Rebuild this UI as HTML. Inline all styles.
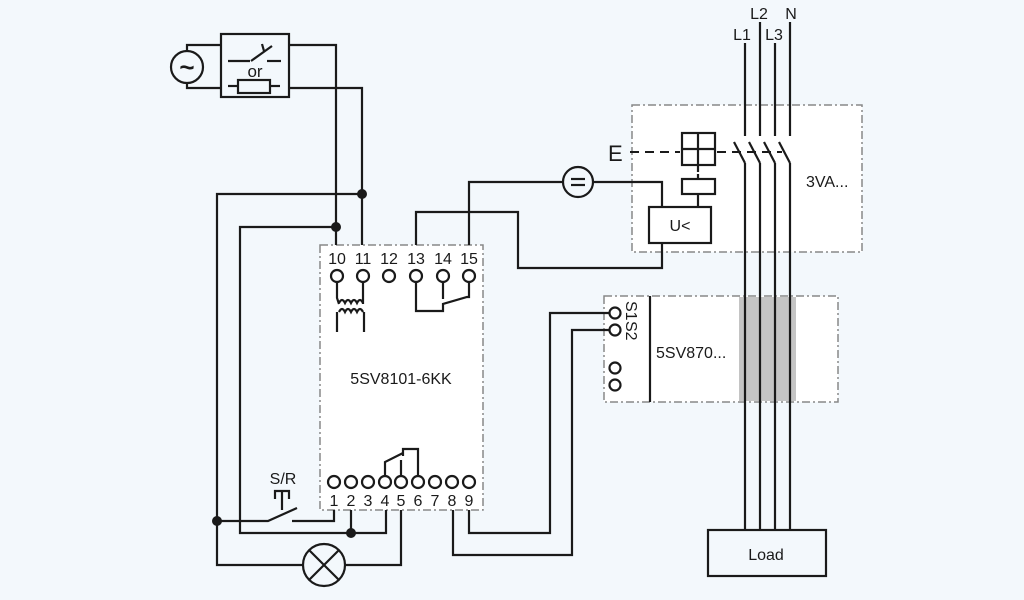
<!DOCTYPE html>
<html><head><style>
html,body{margin:0;padding:0;background:#f3f8fc;}
svg{display:block;font-family:"Liberation Sans",sans-serif;}
</style></head><body>
<svg width="1024" height="600" viewBox="0 0 1024 600" xmlns="http://www.w3.org/2000/svg">
<rect width="1024" height="600" fill="#f3f8fc"/>
<g fill="#fff" stroke="#888" stroke-width="1.5" stroke-dasharray="8,3,2,3">
<rect x="320" y="245" width="163" height="265"/>
<rect x="632" y="105" width="230" height="147"/>
<rect x="604" y="296" width="234" height="106"/>
</g>
<rect x="739" y="297" width="57" height="104" fill="#c4c4c4"/>
<g fill="none" stroke="#1a1a1a" stroke-width="2.2">
<circle cx="187" cy="67" r="16"/>
<polyline points="187,51 187,45 221,45"/>
<polyline points="187,83 187,88 221,88"/>
<rect x="221" y="34" width="68" height="63"/>
<line x1="228" y1="61" x2="250" y2="61"/><line x1="251" y1="61" x2="272" y2="46"/><line x1="267" y1="61" x2="281" y2="61"/>
<line x1="262" y1="44" x2="264" y2="51"/>
<rect x="238" y="80" width="32" height="13"/><line x1="228" y1="86" x2="238" y2="86"/><line x1="270" y1="86" x2="280" y2="86"/>
<polyline points="289,45 336,45 336,245"/>
<polyline points="289,88 362,88 362,245"/>
<polyline points="362,194 217,194 217,565 303,565"/>
<polyline points="336,227 240,227 240,533 386,533 386,510"/>
<circle cx="337" cy="276" r="6"/><circle cx="363" cy="276" r="6"/><circle cx="389" cy="276" r="6"/>
<circle cx="416" cy="276" r="6"/><circle cx="443" cy="276" r="6"/><circle cx="469" cy="276" r="6"/>
<polyline points="337,282 337,298 339,304"/><polyline points="363,282 363,298 363,304"/>
<path d="M339,303 q3,-6 6,0 q3,-6 6,0 q3,-6 6,0 q3,-6 6,0"/>
<path d="M339,312 q3,-6 6,0 q3,-6 6,0 q3,-6 6,0 q3,-6 6,0"/>
<line x1="337" y1="312" x2="337" y2="332"/><line x1="364" y1="312" x2="364" y2="332"/>
<polyline points="416,282 416,311 443,311 443,304 467,297 469,297 469,282"/>
<line x1="443" y1="282" x2="443" y2="299"/>
<polyline points="416,245 416,212 518,212 518,268 662,268 662,243"/>
<polyline points="469,245 469,182 563,182"/>
<circle cx="578" cy="182" r="15"/>
<line x1="571" y1="179" x2="585" y2="179"/><line x1="571" y1="185" x2="585" y2="185"/>
<polyline points="593,182 662,182 662,207"/>
<rect x="649" y="207" width="62" height="36"/>
<rect x="682" y="133" width="33" height="32"/><line x1="698" y1="133" x2="698" y2="165"/><line x1="682" y1="149" x2="715" y2="149"/>
<line x1="698" y1="165" x2="698" y2="172"/><line x1="698" y1="174" x2="698" y2="179"/>
<rect x="682" y="179" width="33" height="15"/><line x1="698" y1="194" x2="698" y2="207"/>
<line x1="745" y1="43" x2="745" y2="136"/><line x1="760" y1="22" x2="760" y2="136"/>
<line x1="775" y1="43" x2="775" y2="136"/><line x1="790" y1="22" x2="790" y2="136"/>
<line x1="734" y1="142" x2="745" y2="163"/><line x1="749" y1="142" x2="760" y2="163"/>
<line x1="764" y1="142" x2="775" y2="163"/><line x1="779" y1="142" x2="790" y2="163"/>
<line x1="745" y1="163" x2="745" y2="530"/><line x1="760" y1="163" x2="760" y2="530"/>
<line x1="775" y1="163" x2="775" y2="530"/><line x1="790" y1="163" x2="790" y2="530"/>
<rect x="708" y="530" width="118" height="46"/>
<line x1="650" y1="296" x2="650" y2="402"/>
<circle cx="615" cy="313" r="5.5"/><circle cx="615" cy="330" r="5.5"/>
<circle cx="615" cy="368" r="5.5"/><circle cx="615" cy="385" r="5.5"/>
<polyline points="609,313 550,313 550,533 469,533 469,510"/>
<polyline points="609,330 572,330 572,555 453,555 453,510"/>
<circle cx="334" cy="482" r="6"/><circle cx="351" cy="482" r="6"/><circle cx="368" cy="482" r="6"/>
<circle cx="385" cy="482" r="6"/><circle cx="401" cy="482" r="6"/><circle cx="418" cy="482" r="6"/>
<circle cx="435" cy="482" r="6"/><circle cx="452" cy="482" r="6"/><circle cx="469" cy="482" r="6"/>
<polyline points="385,476 385,462 403,453"/>
<line x1="401" y1="476" x2="401" y2="460"/>
<polyline points="418,476 418,449 403,449 403,456"/>
<polyline points="334,510 334,521 292,521"/>
<polyline points="217,521 268,521 297,508"/>
<polyline points="275,499 275,491 289,491 289,499"/><line x1="282" y1="491" x2="282" y2="510"/>
<line x1="351" y1="510" x2="351" y2="533"/>
<polyline points="401,510 401,565 345,565"/>
<circle cx="324" cy="565" r="21"/>
<line x1="309" y1="550" x2="339" y2="580"/><line x1="339" y1="550" x2="309" y2="580"/>
</g>
<g stroke="#1a1a1a" stroke-width="2" stroke-dasharray="9,6" fill="none">
<line x1="630" y1="152" x2="680" y2="152"/><line x1="717" y1="152" x2="782" y2="152"/>
</g>
<g fill="#1a1a1a">
<circle cx="362" cy="194" r="5"/><circle cx="336" cy="227" r="5"/>
<circle cx="217" cy="521" r="5"/><circle cx="351" cy="533" r="5"/>
<text x="187" y="76" font-size="26" text-anchor="middle" font-weight="bold">~</text>
<text x="255" y="77" font-size="17" text-anchor="middle">or</text>
<g font-size="16" text-anchor="middle">
<text x="337" y="264">10</text><text x="363" y="264">11</text><text x="389" y="264">12</text>
<text x="416" y="264">13</text><text x="443" y="264">14</text><text x="469" y="264">15</text>
<text x="334" y="506">1</text><text x="351" y="506">2</text><text x="368" y="506">3</text>
<text x="385" y="506">4</text><text x="401" y="506">5</text><text x="418" y="506">6</text>
<text x="435" y="506">7</text><text x="452" y="506">8</text><text x="469" y="506">9</text>
<text x="401" y="384">5SV8101-6KK</text>
<text x="283" y="484">S/R</text>
<text x="680" y="231">U&lt;</text>
<text x="766" y="560">Load</text>
<text x="742" y="40">L1</text><text x="759" y="19">L2</text><text x="774" y="40">L3</text><text x="791" y="19">N</text>
</g>
<text x="608" y="161" font-size="22">E</text>
<text x="806" y="187" font-size="16">3VA...</text>
<text x="656" y="358" font-size="16">5SV870...</text>
<text font-size="16" transform="translate(626,301) rotate(90)">S1</text>
<text font-size="16" transform="translate(626,321) rotate(90)">S2</text>
</g>
</svg>
</body></html>
